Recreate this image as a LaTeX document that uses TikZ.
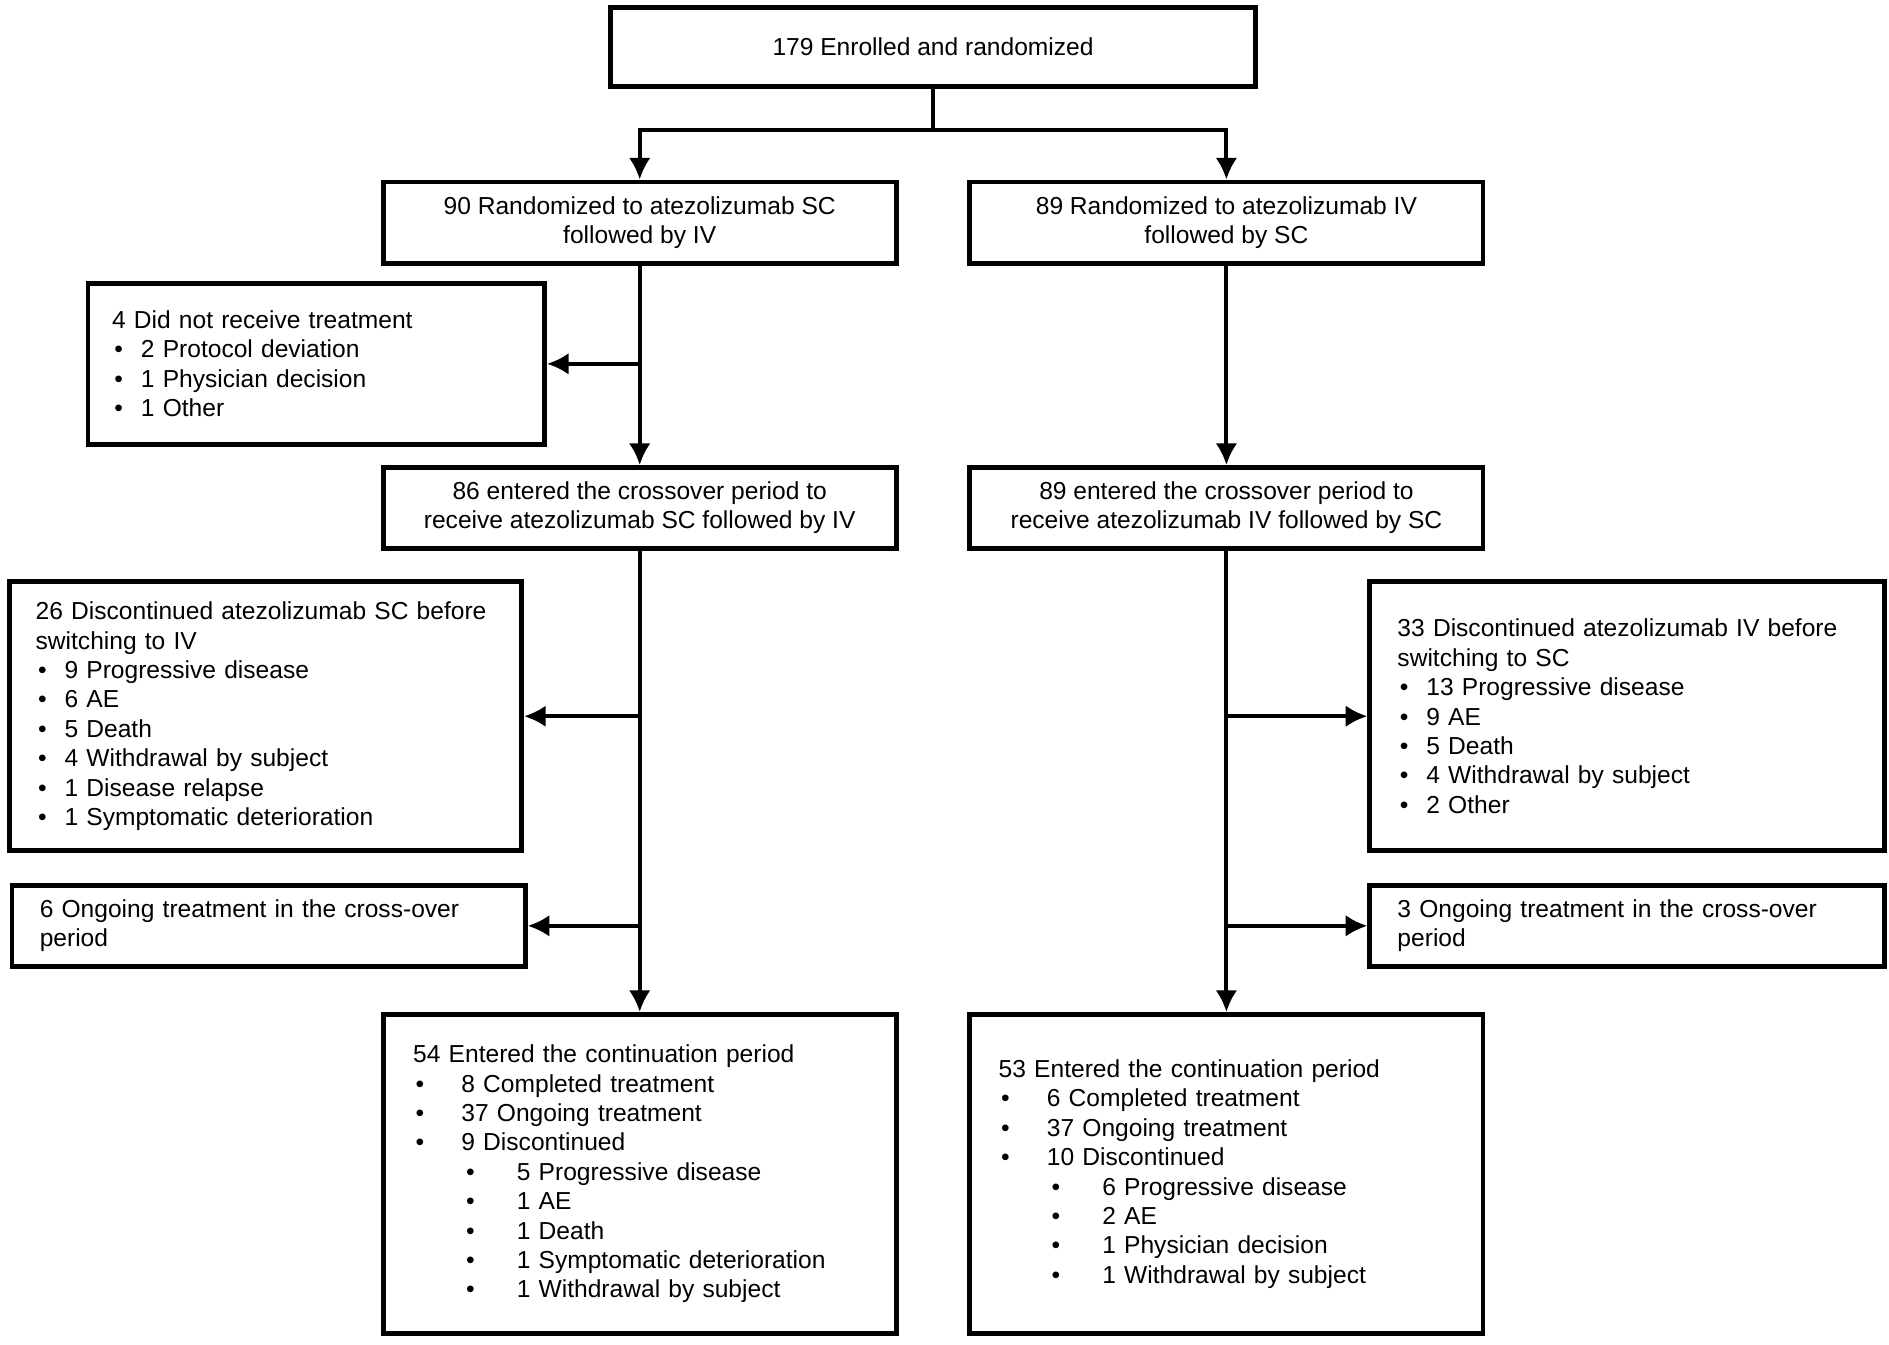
\documentclass[tikz,border=0pt]{standalone}
\usepackage{fontspec}
\setmainfont{Liberation Sans}
\usetikzlibrary{positioning, arrows.meta}
\newcommand{\itm}[1]{\hspace*{1pt}\makebox[11pt][l]{\textbullet}#1}
\newcommand{\itmw}[1]{\hspace*{1pt}\makebox[19pt][l]{\textbullet}#1}
\newcommand{\subitm}[1]{\hspace*{22pt}\makebox[21pt][l]{\textbullet}#1}
\begin{document}
\begin{tikzpicture}
        [
            x=0.5pt, y=-0.5pt,
            box/.style = {draw, black, line width=2pt, align=center, inner sep=0pt, font=\fontsize{10.2pt}{12.2pt}\selectfont},
            listbox/.style = {box, align=left},
            flow/.style = {-{Latex[length=9pt,width=9pt]}, line width=1.6pt}
        ]%
        \useasboundingbox[fill=white] (0,0) rectangle (1568,1116);
        \node[box, minimum width=267.5pt, minimum height=33pt] (enrol) at (774.5,39) {179 Enrolled and randomized};
        \node[box, minimum width=213pt, minimum height=34pt] (armsc) at (531,185) {90 Randomized to atezolizumab SC\\followed by IV};
        \node[box, minimum width=213pt, minimum height=34pt] (armiv) at (1018,185) {89 Randomized to atezolizumab IV\\followed by SC};
        \node[listbox, minimum width=189.5pt, minimum height=67pt, inner xsep=10pt, text width=169.5pt] (notrx) at (262.5,302) {4 Did not receive treatment\\\itm{2 Protocol deviation}\\\itm{1 Physician decision}\\\itm{1 Other}};
        \node[box, minimum width=213pt, minimum height=33.5pt] (crosssc) at (531,421.5) {86 entered the crossover period to\\receive atezolizumab SC followed by IV};
        \node[box, minimum width=213pt, minimum height=33.5pt] (crossiv) at (1018,421.5) {89 entered the crossover period to\\receive atezolizumab IV followed by SC};
        \node[listbox, minimum width=212.5pt, minimum height=111.5pt, inner xsep=10.8pt, text width=190.9pt] (discsc) at (220.5,594.5) {26 Discontinued atezolizumab SC before\\switching to IV\\\itm{9 Progressive disease}\\\itm{6 AE}\\\itm{5 Death}\\\itm{4 Withdrawal by subject}\\\itm{1 Disease relapse}\\\itm{1 Symptomatic deterioration}};
        \node[listbox, minimum width=213.5pt, minimum height=111.5pt, inner xsep=11.5pt, text width=190.5pt] (disciv) at (1350.5,594.5) {33 Discontinued atezolizumab IV before\\switching to SC\\\itm{13 Progressive disease}\\\itm{9 AE}\\\itm{5 Death}\\\itm{4 Withdrawal by subject}\\\itm{2 Other}};
        \node[listbox, minimum width=213pt, minimum height=33.5pt, inner xsep=11.5pt, text width=190pt] (ongsc) at (223,768.5) {6 Ongoing treatment in the cross-over\\period};
        \node[listbox, minimum width=213.5pt, minimum height=33.5pt, inner xsep=11.5pt, text width=190.5pt] (ongiv) at (1350.5,768.5) {3 Ongoing treatment in the cross-over\\period};
        \node[listbox, minimum width=213pt, minimum height=132.5pt, inner xsep=12.5pt, text width=188pt] (contsc) at (531,974.5) {54 Entered the continuation period\\\itmw{8 Completed treatment}\\\itmw{37 Ongoing treatment}\\\itmw{9 Discontinued}\\\subitm{5 Progressive disease}\\\subitm{1 AE}\\\subitm{1 Death}\\\subitm{1 Symptomatic deterioration}\\\subitm{1 Withdrawal by subject}};
        \node[listbox, minimum width=213pt, minimum height=132.5pt, inner xsep=12pt, text width=189pt] (contiv) at (1018,974.5) {53 Entered the continuation period\\\itmw{6 Completed treatment}\\\itmw{37 Ongoing treatment}\\\itmw{10 Discontinued}\\\subitm{6 Progressive disease}\\\subitm{2 AE}\\\subitm{1 Physician decision}\\\subitm{1 Withdrawal by subject}};
        \coordinate (fork) at (774.5,108);
        \draw[line width=1.6pt] (enrol) -- (fork);
        \draw[flow] (fork) -| (armsc);
        \draw[flow] (fork) -| (armiv);
        \draw[flow] (armsc) -- (crosssc);
        \draw[flow] (armsc.south |- notrx.east) -- (notrx.east);
        \draw[flow] (armiv) -- (crossiv);
        \draw[flow] (crosssc) -- (contsc);
        \draw[flow] (crosssc.south |- discsc.east) -- (discsc.east);
        \draw[flow] (crosssc.south |- ongsc.east) -- (ongsc.east);
        \draw[flow] (crossiv) -- (contiv);
        \draw[flow] (crossiv.south |- disciv.west) -- (disciv.west);
        \draw[flow] (crossiv.south |- ongiv.west) -- (ongiv.west);
        \end{tikzpicture}
\end{document}
